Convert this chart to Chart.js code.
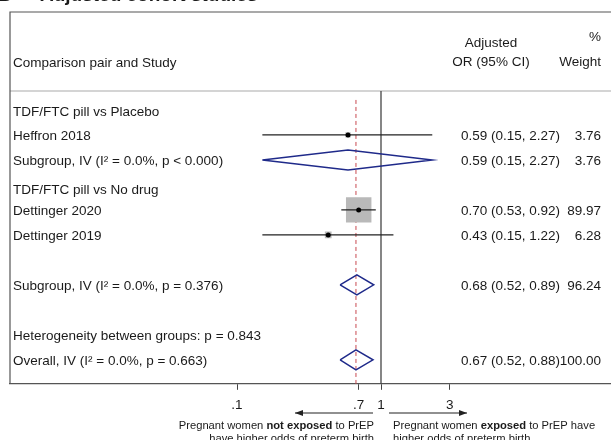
<!DOCTYPE html>
<html>
<head>
<meta charset="utf-8">
<script src="https://cdn.jsdelivr.net/npm/chart.js@4"></script>
<style>
  body { margin: 0; background: #fff; }
</style>
</head>
<body>
<canvas id="forest" width="611" height="440"></canvas>
<script>
// rows, top to bottom
let rowLabels = [
    'TDF/FTC pill vs Placebo',
    'Heffron 2018',
    'Subgroup, IV (I\u00B2 = 0.0%, p < 0.000)',
    'TDF/FTC pill vs No drug',
    'Dettinger 2020',
    'Dettinger 2019',
    '',
    'Subgroup, IV (I\u00B2 = 0.0%, p = 0.376)',
    '',
    'Heterogeneity between groups: p = 0.843',
    'Overall, IV (I\u00B2 = 0.0%, p = 0.663)'
];
// row kind: h = heading, s = study, d = pooled diamond, t = text only
let rowKinds = ['h', 's', 'd', 'h', 's', 's', '', 'd', '', 't', 'd'];
let estimates = [null, 0.59, 0.59, null, 0.70, 0.43, null, 0.68, null, null, 0.67];
let lowerCI   = [null, 0.15, 0.15, null, 0.53, 0.15, null, 0.52, null, null, 0.52];
let upperCI   = [null, 2.27, 2.27, null, 0.92, 1.22, null, 0.89, null, null, 0.88];
let weights   = [null, 3.76, 3.76, null, 89.97, 6.28, null, 96.24, null, null, 100.00];

let xTicks = [0.1, 0.7, 1, 3];
let xTickLabels = ['.1', '.7', '1', '3'];
let overallOR = 0.67;

const FONT = '"Liberation Sans", Arial, sans-serif';
const ROW_H = 25;   // px per row
const ROW0 = 110;   // px of first row

// build datasets
let studyRows = [];
let diamondRows = [];
rowKinds.forEach((k, i) => {
    if (k === 's') studyRows.push(i);
    if (k === 'd') diamondRows.push(i);
});

let datasets = [];

// dots on top
datasets.push({
    data: studyRows.map(i => ({ x: estimates[i], y: i })),
    pointStyle: 'circle',
    pointRadius: 2.5,
    backgroundColor: '#000',
    borderWidth: 0,
    showLine: false
});

// confidence interval lines
studyRows.forEach(i => {
    datasets.push({
        data: [{ x: lowerCI[i], y: i }, { x: upperCI[i], y: i }],
        showLine: true,
        borderColor: '#222',
        borderWidth: 1.3,
        pointRadius: 0
    });
});

// weight squares (area proportional to weight)
datasets.push({
    data: studyRows.map(i => ({ x: estimates[i], y: i })),
    pointStyle: 'rect',
    pointRadius: studyRows.map(i => 18 * Math.sqrt(weights[i] / 89.97)),
    backgroundColor: '#b9b9b9',
    borderWidth: 0,
    showLine: false
});

// pooled diamonds
diamondRows.forEach(i => {
    datasets.push({
        data: [
            { x: lowerCI[i], y: i },
            { x: estimates[i], y: i - 0.4 },
            { x: upperCI[i], y: i },
            { x: estimates[i], y: i + 0.4 },
            { x: lowerCI[i], y: i }
        ],
        showLine: true,
        borderColor: '#1f2a8a',
        borderWidth: 1.5,
        pointRadius: 0,
        tension: 0
    });
});

// frame, null line and overall dashed line behind the marks
const framePlugin = {
    id: 'frame',
    beforeDatasetsDraw(chart) {
        let ctx = chart.ctx;
        let area = chart.chartArea;
        let x = chart.scales.x;
        let y = chart.scales.y;
        ctx.save();
        // header separator
        ctx.strokeStyle = '#d4d4d4';
        ctx.lineWidth = 2;
        ctx.beginPath();
        ctx.moveTo(area.left, 91);
        ctx.lineTo(area.right, 91);
        ctx.stroke();
        // outer frame
        ctx.strokeStyle = '#555';
        ctx.lineWidth = 1.2;
        ctx.beginPath();
        ctx.moveTo(area.right, area.top);
        ctx.lineTo(area.left, area.top);
        ctx.lineTo(area.left, area.bottom);
        ctx.stroke();
        // line of no effect
        let x1 = x.getPixelForValue(1);
        ctx.strokeStyle = '#444';
        ctx.lineWidth = 1.3;
        ctx.beginPath();
        ctx.moveTo(x1, 91);
        ctx.lineTo(x1, area.bottom);
        ctx.stroke();
        // overall estimate
        let xo = x.getPixelForValue(overallOR);
        ctx.strokeStyle = '#c8494f';
        ctx.lineWidth = 1;
        ctx.setLineDash([4, 3]);
        ctx.beginPath();
        ctx.moveTo(xo, y.getPixelForValue(-0.4));
        ctx.lineTo(xo, area.bottom);
        ctx.stroke();
        ctx.restore();
    }
};

function drawArrow(ctx, x0, x1, yy) {
    let dir = Math.sign(x1 - x0);
    ctx.beginPath();
    ctx.moveTo(x0, yy);
    ctx.lineTo(x1, yy);
    ctx.stroke();
    ctx.beginPath();
    ctx.moveTo(x1, yy);
    ctx.lineTo(x1 - dir * 8, yy - 3);
    ctx.lineTo(x1 - dir * 8, yy + 3);
    ctx.closePath();
    ctx.fill();
}

// draws a line of mixed normal/bold text
function drawRich(ctx, parts, xx, yy, align) {
    let total = 0;
    parts.forEach(p => {
        ctx.font = (p[1] ? 'bold ' : '') + '11.2px ' + FONT;
        total += ctx.measureText(p[0]).width;
    });
    let cx = align === 'right' ? xx - total : xx;
    ctx.textAlign = 'left';
    parts.forEach(p => {
        ctx.font = (p[1] ? 'bold ' : '') + '11.2px ' + FONT;
        ctx.fillText(p[0], cx, yy);
        cx += ctx.measureText(p[0]).width;
    });
}

const textPlugin = {
    id: 'texts',
    afterDraw(chart) {
        let ctx = chart.ctx;
        let y = chart.scales.y;
        ctx.save();
        ctx.fillStyle = '#1a1a1a';

        // title (cut off at top)
        ctx.font = 'bold 19px ' + FONT;
        ctx.textBaseline = 'alphabetic';
        ctx.textAlign = 'left';
        ctx.fillText('B', -2, 0.5);
        ctx.fillText('Adjusted cohort studies', 40, 0.5);
        ctx.textBaseline = 'middle';

        // header
        ctx.font = '13.5px ' + FONT;
        ctx.fillText('Comparison pair and Study', 13, 63);
        ctx.textAlign = 'center';
        ctx.fillText('Adjusted', 491, 43);
        ctx.fillText('OR (95% CI)', 491, 62);
        ctx.fillText('%', 595, 37);
        ctx.textAlign = 'right';
        ctx.fillText('Weight', 601, 62);

        // rows
        rowLabels.forEach((lab, i) => {
            let yy = y.getPixelForValue(i) + 1;
            if (rowKinds[i] === 'h') yy += (i === 0 ? 1 : 4);
            ctx.textAlign = 'left';
            ctx.fillText(lab, 13, yy);
            if (estimates[i] !== null) {
                ctx.fillText(estimates[i].toFixed(2) + ' (' + lowerCI[i].toFixed(2) + ', ' +
                    upperCI[i].toFixed(2) + ')', 461, yy);
                ctx.textAlign = 'right';
                ctx.fillText(weights[i].toFixed(2), 601, yy);
            }
        });

        // direction arrows and captions
        ctx.strokeStyle = '#222';
        ctx.fillStyle = '#222';
        ctx.lineWidth = 1.2;
        drawArrow(ctx, 373, 295, 413);
        drawArrow(ctx, 389, 467, 413);
        ctx.fillStyle = '#1a1a1a';
        drawRich(ctx, [['Pregnant women ', false], ['not exposed', true], [' to PrEP', false]], 374, 426, 'right');
        drawRich(ctx, [['have higher odds of preterm birth', false]], 374, 439, 'right');
        drawRich(ctx, [['Pregnant women ', false], ['exposed', true], [' to PrEP have', false]], 393, 426, 'left');
        drawRich(ctx, [['higher odds of preterm birth', false]], 393, 439, 'left');
        ctx.restore();
    }
};

new Chart(document.getElementById('forest').getContext('2d'), {
    type: 'scatter',
    data: { datasets: datasets },
    options: {
        responsive: false,
        animation: false,
        devicePixelRatio: 1,
        layout: { autoPadding: false, padding: { left: 10, right: 0, top: 12, bottom: 20 } },
        plugins: { legend: { display: false }, tooltip: { enabled: false } },
        scales: {
            x: {
                type: 'logarithmic',
                min: Math.pow(10, -371 / 144),
                max: Math.pow(10, 230 / 144),
                afterBuildTicks: axis => { axis.ticks = xTicks.map(v => ({ value: v })); },
                ticks: {
                    autoSkip: false,
                    maxRotation: 0,
                    padding: 7,
                    color: '#1a1a1a',
                    font: { family: FONT, size: 13.5 },
                    callback: (v) => xTickLabels[xTicks.indexOf(v)]
                },
                grid: { drawOnChartArea: false, tickLength: 6, color: '#444' },
                border: { color: '#555', width: 1.2 }
            },
            y: {
                display: false,
                reverse: true,
                min: (12 - ROW0) / ROW_H,
                max: (384 - ROW0) / ROW_H
            }
        }
    },
    plugins: [framePlugin, textPlugin]
});
</script>
</body>
</html>
